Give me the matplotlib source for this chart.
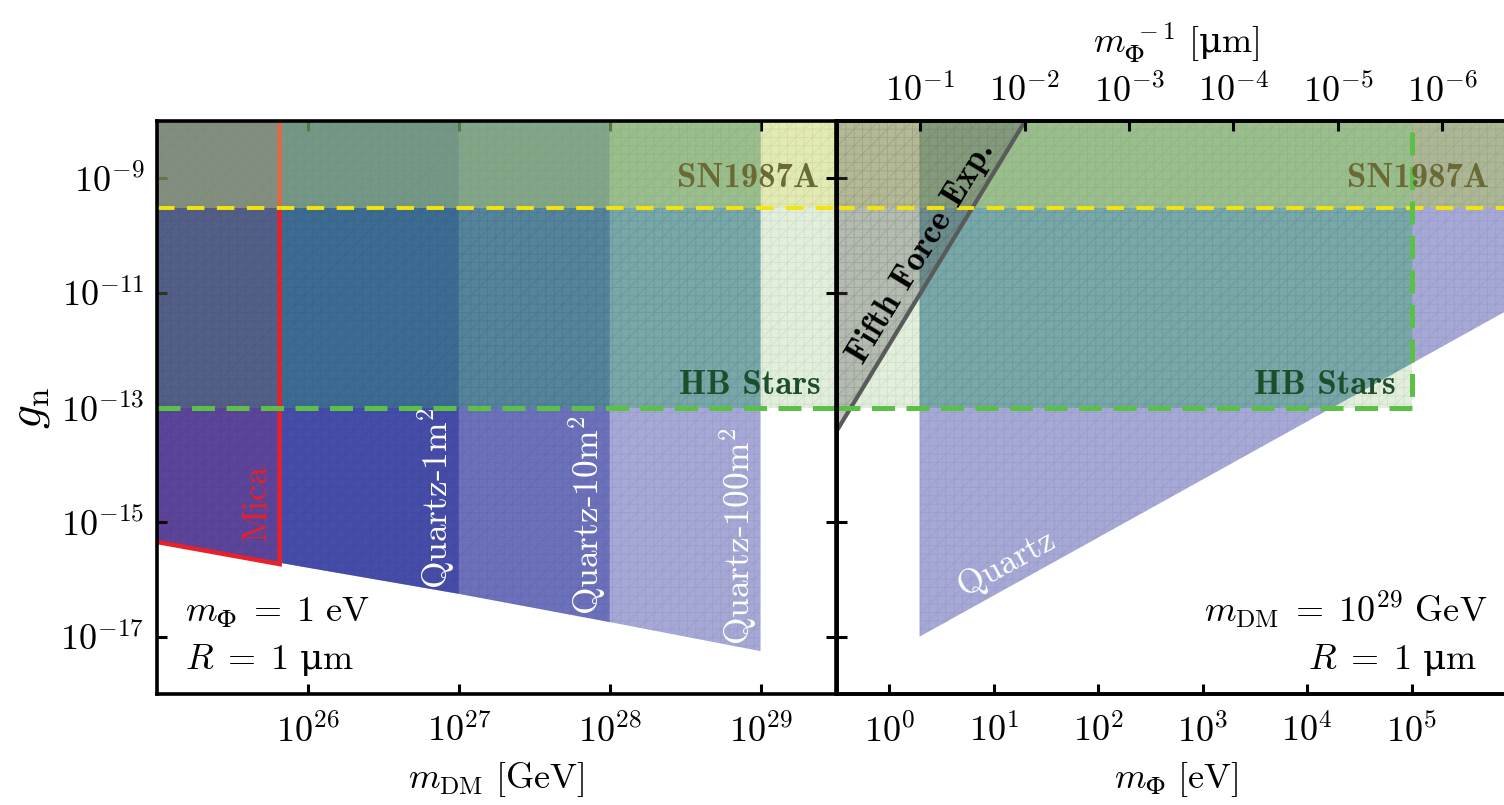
import numpy as np
import matplotlib
matplotlib.use('Agg')
import matplotlib.pyplot as plt
from matplotlib.patches import Polygon, Rectangle
from matplotlib.ticker import NullLocator

# ---- values ----
# left panel (m_Phi = 1 eV): quartz floor vs dark matter mass
mdm_nodes = [1e25, 1e26, 1e27, 1e28, 1e29]                     # GeV
gn_quartz_floor = [4.7e-16, 1.6e-16, 5.6e-17, 1.8e-17, 5.6e-18]
quartz_mdm_max = [1e27, 1e28, 1e29]
quartz_labels = [r'Quartz-1m$^2$', r'Quartz-10m$^2$', r'Quartz-100m$^2$']
mica_mdm = [1e25, 6.5e25]
mica_gn = [4.5e-16, 1.85e-16]

# astrophysical bounds
sn_gn = 3e-10
hb_gn = 1e-13
hb_mphi_max = 1e5                                              # eV

# right panel (m_DM = 1e29 GeV)
quartz_mphi = [1.95, 1e6]
quartz_gn = [1e-17, 6e-12]
fifth_mphi = [0.3, 20.0]
fifth_gn = [3.4e-14, 1e-8]

hbarc = 0.1973                                                 # eV um
lam_ticks = [1e-1, 1e-2, 1e-3, 1e-4, 1e-5, 1e-6]
ytick_exp = [-9, -11, -13, -15, -17]

# ---- style ----
plt.rcParams['font.family'] = ['cmr10', 'DejaVu Serif']
plt.rcParams['mathtext.fontset'] = 'cm'
plt.rcParams['axes.formatter.use_mathtext'] = True
plt.rcParams['hatch.linewidth'] = 0.6

FS = 26
HB_BASE = '#e1efdb'
SN_BASE = '#e3ebb3'
Q_COL = (0.0, 10/255, 138/255, 0.35)
HB_TINT = (62/255, 190/255, 120/255, 0.30)
SN_TINT = (219/255, 236/255, 126/255, 0.35)
MICA_FILL = (220/255, 20/255, 60/255, 0.14)
FF_FILL = (90/255, 90/255, 90/255, 0.34)
HATCH = (0.05, 0.05, 0.2, 0.07)
YEL = '#f4e40a'
GRN = '#5cbf48'
UM = r'$\ $μ$\mathrm{m}$'       # upright mu comes from DejaVu Serif

ylo, yhi = 1e-18, 1e-8
xl_lim = (1e25, 10**29.5)
xr_lim = (10**-0.5, 1e6)

fig = plt.figure(figsize=(15.04, 8.05), dpi=100)
axl = fig.add_axes([157/1504, 1-694/805, 679/1504, 573/805])
axr = fig.add_axes([837/1504, 1-694/805, 679/1504, 573/805])

for ax, xlim in ((axl, xl_lim), (axr, xr_lim)):
    ax.set_xscale('log')
    ax.set_yscale('log')
    ax.set_xlim(xlim)
    ax.set_ylim(ylo, yhi)
    ax.set_yticks([10.0**e for e in ytick_exp])
    ax.yaxis.set_minor_locator(NullLocator())
    ax.xaxis.set_minor_locator(NullLocator())
    ax.tick_params(which='major', direction='in', length=7, width=2.2,
                   labelsize=FS, pad=9)
    ax.tick_params(axis='x', pad=14)
    for s in ax.spines.values():
        s.set_linewidth(2.6)

def add_tint(ax, rect_xy, color, clip, z):
    (x0, x1), (y0, y1) = rect_xy
    r = Rectangle((x0, y0), x1-x0, y1-y0, fc=color, lw=0, zorder=z)
    ax.add_patch(r)
    r.set_clip_path(clip)
    return r

def base_rect(ax, x0, x1, y0, color, z):
    ax.add_patch(Rectangle((x0, y0), x1-x0, yhi-y0, fc=color, hatch='//++',
                           ec=HATCH, lw=0, zorder=z))

# ================= left panel =================
x0, x1 = xl_lim
base_rect(axl, x0, x1, hb_gn, HB_BASE, 1.0)
axl.add_patch(Rectangle((x0, sn_gn), x1-x0, yhi-sn_gn, fc=SN_BASE, lw=0, zorder=1.1))
axl.add_patch(Rectangle((x0, sn_gn), x1-x0, yhi-sn_gn, fc='none', hatch='//++',
                        ec=HATCH, lw=0, zorder=1.15))

q_union = None
for mmax in quartz_mdm_max:
    n = mdm_nodes.index(mmax) + 1
    verts = [(mdm_nodes[0], yhi)] + list(zip(mdm_nodes[:n], gn_quartz_floor[:n])) + [(mmax, yhi)]
    p = Polygon(verts, closed=True, fc=Q_COL, lw=0, zorder=1.5)
    axl.add_patch(p)
    q_union = p
axl.add_patch(Polygon(q_union.get_xy(), closed=True, fc='none', hatch='//++',
                      ec=HATCH, lw=0, zorder=1.55))

add_tint(axl, ((x0, x1), (hb_gn, yhi)), HB_TINT, q_union, 1.6)

mica_verts = [(mica_mdm[0], yhi)] + list(zip(mica_mdm, mica_gn)) + [(mica_mdm[1], yhi)]
axl.add_patch(Polygon(mica_verts, closed=True, fc=MICA_FILL, lw=0, zorder=1.7))
axl.plot(mica_mdm + [mica_mdm[1]], mica_gn + [yhi], color='#e8202a', lw=3.2, zorder=1.75,
         solid_joinstyle='miter')

add_tint(axl, ((x0, x1), (sn_gn, yhi)), SN_TINT, q_union, 1.8)

axl.axhline(sn_gn, color=YEL, lw=2.8, dashes=(4.5, 3.2), zorder=2.2)
axl.axhline(hb_gn, color=GRN, lw=3.6, dashes=(4.6, 2.3), zorder=2.3)

axl.set_xticks(mdm_nodes[1:])
axl.set_xticklabels([r'$10^{%d}$' % e for e in (26, 27, 28, 29)])
axl.set_yticklabels([r'$10^{%d}$' % e for e in ytick_exp])
axl.tick_params(top=True, right=True)
axl.set_xlabel(r'$m_{\mathrm{DM}}\ [\mathrm{GeV}]$', fontsize=FS, labelpad=8)
axl.set_ylabel(r'$g_{\mathrm{n}}$', fontsize=34)
axl.yaxis.set_label_coords(-0.155, 0.50)

axl.text(10**29.39, 1e-9, 'SN1987A', family=['cmb10', 'DejaVu Serif'], fontsize=25,
         color='#6b6a34', ha='right', va='center', zorder=3)
axl.text(10**29.40, 10**-12.61, 'HB Stars', family=['cmb10', 'DejaVu Serif'], fontsize=25,
         color='#1c4e2c', ha='right', va='center', zorder=3)
axl.text(10**25.66, 10**-14.65, 'Mica', fontsize=26, color='#e8202a', rotation=90,
         ha='center', va='center', zorder=3)
for mmax, lab, yc in zip(quartz_mdm_max, quartz_labels, (-14.58, -14.88, -15.25)):
    axl.text(mmax*10**-0.15, 10**yc, lab, fontsize=25.5, color='white', rotation=90,
             ha='center', va='center', zorder=3)
axl.text(0.041, 0.141, r'$m_{\mathit{Φ}}\;=\;1\ \mathrm{eV}$', transform=axl.transAxes,
         fontsize=FS, ha='left', va='center')
axl.text(0.041, 0.059, r'$R\;=\;1$' + UM, transform=axl.transAxes, family='DejaVu Serif',
         fontsize=FS, ha='left', va='center')

# ================= right panel =================
x0, x1 = xr_lim
base_rect(axr, x0, hb_mphi_max, hb_gn, HB_BASE, 1.0)
base_rect(axr, x0, x1, sn_gn, SN_BASE, 1.1)

q_verts = [(quartz_mphi[0], yhi)] + list(zip(quartz_mphi, quartz_gn)) + [(quartz_mphi[1], yhi)]
qr = Polygon(q_verts, closed=True, fc=Q_COL, lw=0, zorder=1.5)
axr.add_patch(qr)
axr.add_patch(Polygon(q_verts, closed=True, fc='none', hatch='//++', ec=HATCH, lw=0, zorder=1.55))
add_tint(axr, ((x0, hb_mphi_max), (hb_gn, yhi)), HB_TINT, qr, 1.6)
add_tint(axr, ((x0, x1), (sn_gn, yhi)), SN_TINT, qr, 1.8)

ff_verts = [(fifth_mphi[0], yhi)] + list(zip(fifth_mphi, fifth_gn))
axr.add_patch(Polygon(ff_verts, closed=True, fc=FF_FILL, hatch='//++', ec=HATCH, lw=0,
                      zorder=1.9))
axr.plot(fifth_mphi, fifth_gn, color='#5a5a5a', lw=3, zorder=2.0)

axr.axhline(sn_gn, color=YEL, lw=2.8, dashes=(4.5, 3.2), zorder=2.2)
axr.plot([x0, hb_mphi_max, hb_mphi_max], [hb_gn, hb_gn, yhi], color=GRN, lw=3.6,
         dashes=(4.6, 2.3), zorder=2.3)

axr.set_xticks([10.0**e for e in range(6)])
axr.set_xticklabels([r'$10^{%d}$' % e for e in range(6)])
axr.tick_params(labelleft=False, right=True)
axr.set_xlabel(r'$m_{\mathit{Φ}}\ [\mathrm{eV}]$', fontsize=FS, labelpad=8)

axt = axr.twiny()
axt.set_xscale('log')
axt.set_xlim(xr_lim)
axt.set_xticks([hbarc/l for l in lam_ticks])
axt.set_xticklabels([r'$10^{%d}$' % int(round(np.log10(l))) for l in lam_ticks])
axt.xaxis.set_minor_locator(NullLocator())
axt.tick_params(direction='in', length=7, width=2.2, labelsize=FS, pad=9)
for s in axt.spines.values():
    s.set_linewidth(2.6)
axt.set_xlabel(r'$m_{\mathit{Φ}}^{\ -1}\ [$μ$\mathrm{m}]$', fontsize=FS, labelpad=14,
               family='DejaVu Serif')

# label angles follow the boundary lines on screen
fig.canvas.draw()
def screen_angle(ax, xs, ys):
    p = ax.transData.transform(np.column_stack([xs, ys]))
    return np.degrees(np.arctan2(p[1, 1]-p[0, 1], p[1, 0]-p[0, 0]))

axr.text(10**0.31, 10**-10.3, 'Fifth Force Exp.', family=['cmb10', 'DejaVu Serif'],
         fontsize=25, color='black', rotation=screen_angle(axr, fifth_mphi, fifth_gn),
         ha='center', va='center', rotation_mode='anchor', zorder=3)
axr.text(10**1.12, 10**-15.72, 'Quartz', fontsize=25, color='white',
         rotation=screen_angle(axr, quartz_mphi, quartz_gn),
         ha='center', va='center', rotation_mode='anchor', zorder=3)
axr.text(10**5.74, 1e-9, 'SN1987A', family=['cmb10', 'DejaVu Serif'], fontsize=25,
         color='#6b6a34', ha='right', va='center', zorder=3)
axr.text(10**4.85, 10**-12.61, 'HB Stars', family=['cmb10', 'DejaVu Serif'], fontsize=25,
         color='#1c4e2c', ha='right', va='center', zorder=3)
axr.text(0.957, 0.147, r'$m_{\mathrm{DM}}\;=\;10^{29}\ \mathrm{GeV}$', transform=axr.transAxes,
         fontsize=FS, ha='right', va='center')
axr.text(0.943, 0.059, r'$R\;=\;1$' + UM, transform=axr.transAxes, family='DejaVu Serif',
         fontsize=FS, ha='right', va='center')

fig.savefig('out.png', dpi=100)
